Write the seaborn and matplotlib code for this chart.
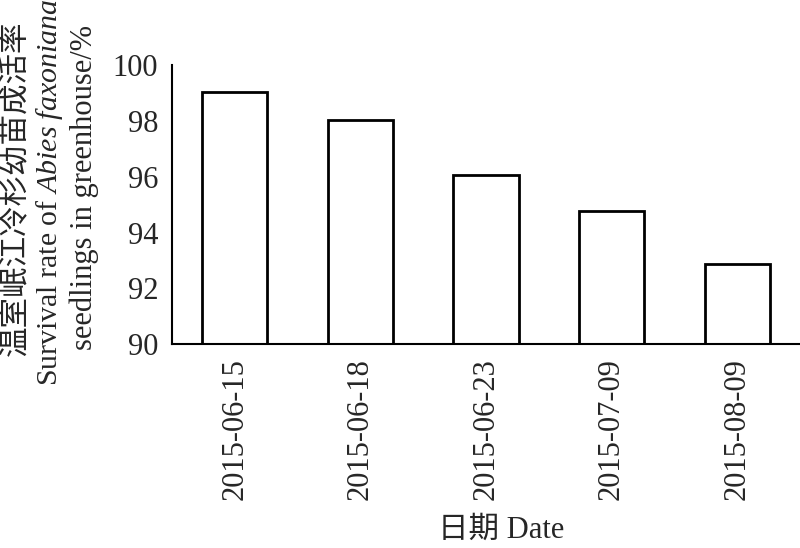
import matplotlib
matplotlib.use('Agg')
import matplotlib.pyplot as plt
import pandas as pd
import seaborn as sns

# Survival rate of Abies faxoniana seedlings in greenhouse (%)
dates = ['2015-06-15', '2015-06-18', '2015-06-23', '2015-07-09', '2015-08-09']
survival = [99.03, 98.02, 96.06, 94.78, 92.87]
y_ticks = [90, 92, 94, 96, 98, 100]

SERIF = ['Liberation Serif', 'Noto Sans CJK SC']

sns.set_theme(style='white')
plt.rcParams['font.family'] = SERIF
plt.rcParams['mathtext.fontset'] = 'custom'
plt.rcParams['mathtext.rm'] = 'Liberation Serif'
plt.rcParams['mathtext.it'] = 'Liberation Serif:italic'

df = pd.DataFrame({'Date': dates, 'Survival': survival})

fig = plt.figure(figsize=(8, 5.48), dpi=100)
ax = fig.add_axes([0.215, 0.372, 0.785, 0.509])

sns.barplot(data=df, x='Date', y='Survival', color='white', edgecolor='black',
            linewidth=2, width=0.52, saturation=1, ax=ax)

ax.set_ylim(90, 100)
ax.set_xlim(-0.5, 4.5)
ax.set_yticks(y_ticks)
ax.set_yticklabels([str(t) for t in y_ticks], fontsize=22)
ax.set_xticks(range(len(dates)))
ax.set_xticklabels(dates, rotation=90, fontsize=22)

ax.tick_params(axis='y', direction='in', length=5, width=1.5, color='black', pad=10)
ax.tick_params(axis='x', length=0, pad=10)

for side in ['top', 'right']:
    ax.spines[side].set_visible(False)
for side in ['left', 'bottom']:
    ax.spines[side].set_color('black')
    ax.spines[side].set_linewidth(1.5)

ax.set_xlabel('')
ax.set_ylabel('')

# Axis titles
fig.text(501 / 800, 1 - 530 / 548, '日期 Date', ha='center', va='center',
         fontsize=22, family=SERIF)

yc = 1 - 188 / 548
fig.text(15 / 800, yc, '温室岷江冷杉幼苗成活率', rotation=90, ha='center', va='center',
         fontsize=22, family=['Noto Sans CJK SC', 'Liberation Serif'])
fig.text(50 / 800, 1 - 192 / 548, r'Survival rate of $\it{Abies\ faxoniana}$',
         rotation=90, ha='center', va='center', fontsize=21.5)
fig.text(84 / 800, yc, 'seedlings in greenhouse/%', rotation=90, ha='center',
         va='center', fontsize=22)

fig.savefig('out.png', dpi=100, facecolor='white')
